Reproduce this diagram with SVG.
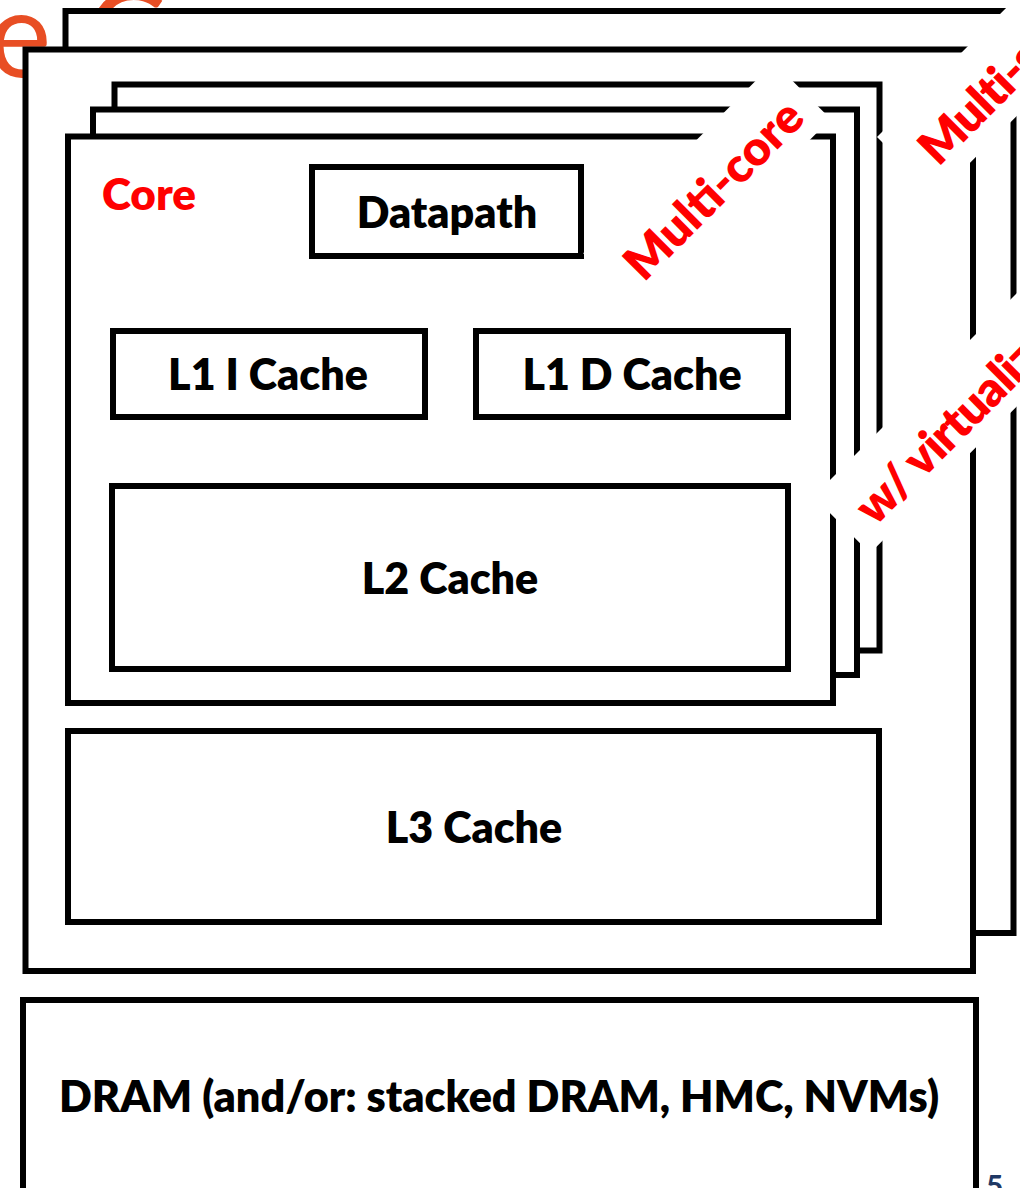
<svg xmlns="http://www.w3.org/2000/svg" width="1020" height="1188" viewBox="0 0 1020 1188">
  <style>
    .box { fill: #ffffff; stroke: #000000; stroke-width: 6; }
    .lbl { font-family: Lato, "Open Sans", "Liberation Sans", sans-serif; font-weight: 800; font-size: 43px; fill: #000000; text-anchor: middle; }
    .red { font-family: Lato, "Open Sans", "Liberation Sans", sans-serif; font-weight: 800; font-size: 44px; fill: #ff0000; }
    .tilt { font-size: 48px; }
    .halo { fill: #ffffff; }
    .title { font-family: Lato, "Liberation Sans", sans-serif; font-weight: 400; font-size: 120px; fill: #e84e24; }
    .pageno { font-family: Lato, "Liberation Sans", sans-serif; font-weight: 700; font-size: 30px; fill: #1f3864; }
  </style>
  <rect x="0" y="0" width="1020" height="1188" fill="#ffffff"/>

  <!-- slide heading, mostly hidden behind the chip stack -->
  <text class="title" x="-12" y="77">e<tspan x="86">C</tspan></text>

  <!-- stacked chips (sockets) -->
  <g id="chip-back">
    <rect class="box" x="65.5" y="11" width="948" height="922"/>
  </g>
  <g id="chip-front">
    <rect class="box" x="25.5" y="49.5" width="947.5" height="921.5"/>
  </g>

  <!-- stacked cores -->
  <g id="core-3">
    <rect class="box" x="114.5" y="84.5" width="765" height="566"/>
  </g>
  <g id="core-2">
    <rect class="box" x="93" y="109.5" width="764" height="565.5"/>
  </g>
  <g id="core-1">
    <rect class="box" x="68" y="136.5" width="765" height="566.5"/>
    <text class="red" x="102" y="210">Core</text>
  </g>

  <g id="datapath">
    <rect class="box" x="312" y="167" width="269" height="89"/>
    <text class="lbl" x="447" y="228">Datapath</text>
  </g>
  <g id="l1-icache">
    <rect class="box" x="113" y="331" width="312" height="86"/>
    <text class="lbl" x="268" y="390">L1 I Cache</text>
  </g>
  <g id="l1-dcache">
    <rect class="box" x="476" y="331" width="312" height="86"/>
    <text class="lbl" x="632" y="390">L1 D Cache</text>
  </g>
  <g id="l2-cache">
    <rect class="box" x="112" y="486" width="676" height="183"/>
    <text class="lbl" x="450" y="594">L2 Cache</text>
  </g>
  <g id="l3-cache">
    <rect class="box" x="68" y="731" width="811" height="191"/>
    <text class="lbl" x="474" y="843">L3 Cache</text>
  </g>
  <g id="dram">
    <rect class="box" x="23" y="1000" width="953" height="220"/>
    <text class="lbl" x="499" y="1112" textLength="880" lengthAdjust="spacingAndGlyphs">DRAM (and/or: stacked DRAM, HMC, NVMs)</text>
  </g>

  <!-- diagonal labels on white backing strips -->
  <g id="label-multicore" transform="translate(644,283) rotate(-45)">
    <rect class="halo" x="-22" y="-64" width="270" height="80"/>
    <text class="red tilt" x="0" y="0">Multi-core</text>
  </g>
  <g id="label-multisocket" transform="translate(938.5,167.5) rotate(-45)">
    <rect class="halo" x="-22" y="-65" width="400" height="84"/>
    <text class="red tilt" x="0" y="0" letter-spacing="-1">Multi-socket</text>
  </g>
  <g id="label-virtualization" transform="translate(875,527) rotate(-45)">
    <rect class="halo" x="-22" y="-65" width="520" height="80"/>
    <text class="red tilt" x="0" y="0" letter-spacing="-1">w/ virtualization</text>
  </g>

  <!-- slide page number, partly off the bottom edge -->
  <text class="pageno" x="986" y="1197">5</text>
</svg>
